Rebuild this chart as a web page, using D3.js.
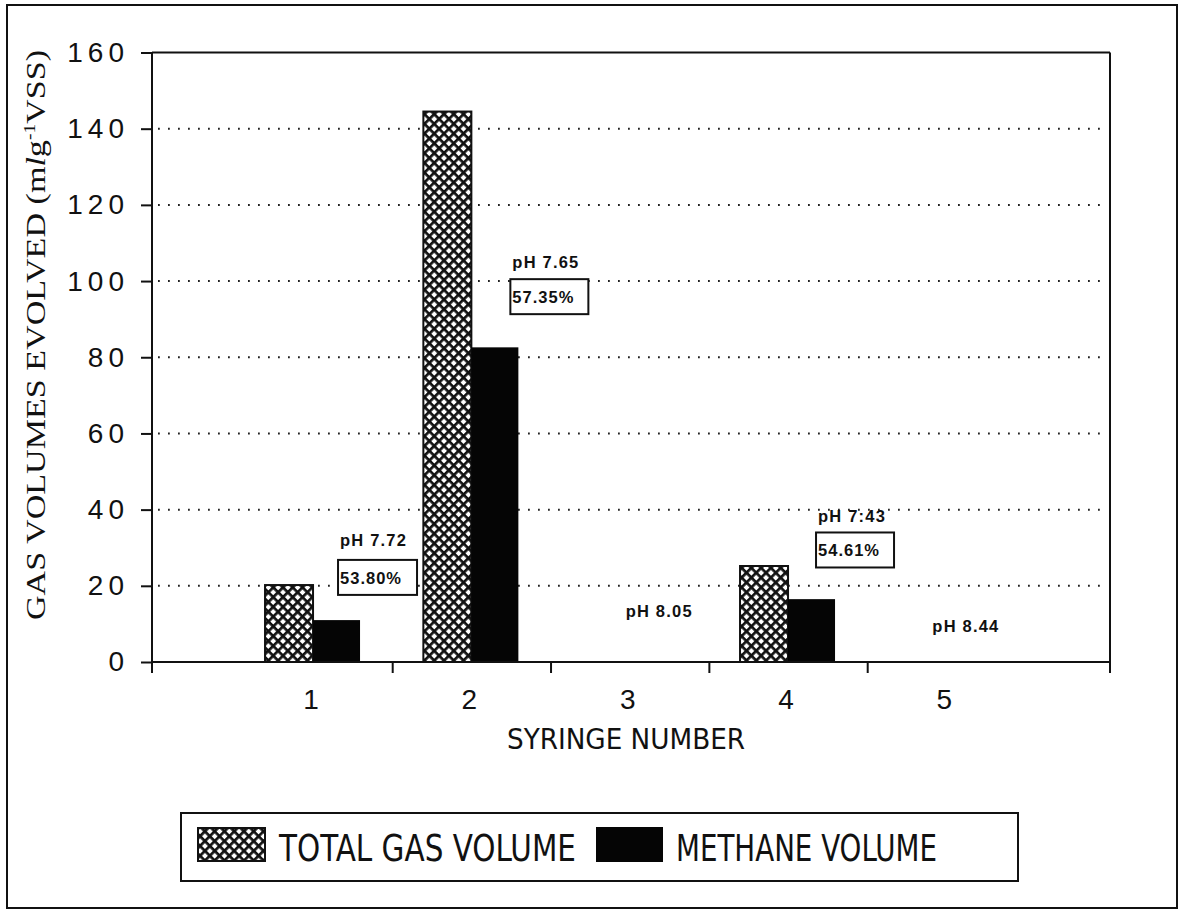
<!DOCTYPE html>
<html>
<head>
<meta charset="utf-8">
<script src="https://cdn.jsdelivr.net/npm/d3@7/dist/d3.min.js"></script>
<style>
  html, body { margin: 0; padding: 0; background: #fff; }
  svg { display: block; }
</style>
</head>
<body>
<script>
// ---- data ----
const categories = ["1", "2", "3", "4", "5"];
const totalGas = [20.2, 144.5, 0, 25.2, 0];
const methane = [11.0, 82.6, 0, 16.5, 0];
const phLabels = ["pH 7.72", "pH 7.65", "pH 8.05", "pH 7:43", "pH 8.44"];
const pctLabels = ["53.80%", "57.35%", null, "54.61%", null];
const yTicks = [0, 20, 40, 60, 80, 100, 120, 140, 160];
const gridTicks = [20, 40, 60, 80, 100, 120, 140];
const legendLabels = ["TOTAL GAS VOLUME", "METHANE VOLUME"];

// ---- layout ----
const W = 1181, H = 913;
const plot = { left: 152, right: 1110, top: 52.5, bottom: 662 };
const barW = 48;

const svg = d3.select("body").append("svg").attr("width", W).attr("height", H);

const defs = svg.append("defs");
const P = 6.9, LW = 2.7;
const pat = defs.append("pattern")
  .attr("id", "xhatch").attr("patternUnits", "userSpaceOnUse")
  .attr("width", P).attr("height", P)
  .attr("patternTransform", "rotate(45)");
pat.append("rect").attr("width", P).attr("height", P).attr("fill", "#fff");
pat.append("rect").attr("x", 0).attr("y", 0).attr("width", P).attr("height", LW).attr("fill", "#111");
pat.append("rect").attr("x", 0).attr("y", 0).attr("width", LW).attr("height", P).attr("fill", "#111");

// outer frame
svg.append("rect").attr("x", 7).attr("y", 5).attr("width", 1170).attr("height", 903)
  .attr("fill", "none").attr("stroke", "#111").attr("stroke-width", 2);

const y = d3.scaleLinear().domain([0, 160]).range([plot.bottom, plot.top]);
const x = d3.scaleLinear().domain([0, 6]).range([154.7, 1104.7]);

// gridlines (dotted)
svg.append("g").selectAll("line").data(gridTicks).join("line")
  .attr("x1", plot.left + 6).attr("x2", plot.right - 5)
  .attr("y1", d => y(d)).attr("y2", d => y(d))
  .attr("stroke", "#222").attr("stroke-width", 2)
  .attr("stroke-dasharray", "1.8,8.2");

// bars
const idx = categories.map((c, i) => i);
svg.append("g").selectAll("rect").data(idx.filter(i => totalGas[i] > 0)).join("rect")
  .attr("x", i => x(i + 1) - barW)
  .attr("y", i => y(totalGas[i]))
  .attr("width", barW)
  .attr("height", i => y(0) - y(totalGas[i]))
  .attr("fill", "url(#xhatch)").attr("stroke", "#111").attr("stroke-width", 2);

svg.append("g").selectAll("rect").data(idx.filter(i => methane[i] > 0)).join("rect")
  .attr("x", i => x(i + 1))
  .attr("y", i => y(methane[i]))
  .attr("width", barW - 1)
  .attr("height", i => y(0) - y(methane[i]))
  .attr("fill", "#050505");

// plot box: left axis, top, right
const axisColor = "#111";
svg.append("line").attr("x1", plot.left).attr("x2", plot.left).attr("y1", plot.top).attr("y2", plot.bottom + 11)
  .attr("stroke", axisColor).attr("stroke-width", 2);
svg.append("line").attr("x1", plot.left).attr("x2", plot.right).attr("y1", plot.top).attr("y2", plot.top)
  .attr("stroke", axisColor).attr("stroke-width", 2);
svg.append("line").attr("x1", plot.right).attr("x2", plot.right).attr("y1", plot.top).attr("y2", plot.bottom + 11)
  .attr("stroke", axisColor).attr("stroke-width", 2);
svg.append("line").attr("x1", plot.left).attr("x2", plot.right).attr("y1", plot.bottom).attr("y2", plot.bottom)
  .attr("stroke", axisColor).attr("stroke-width", 2);

// y axis ticks + labels
const yAxis = d3.axisLeft(y).tickValues(yTicks).tickSize(11).tickPadding(12).tickFormat(d3.format("d"));
const gy = svg.append("g").attr("transform", `translate(${plot.left},0)`).call(yAxis);
gy.select(".domain").remove();
gy.selectAll(".tick line").attr("stroke", axisColor).attr("stroke-width", 2);
gy.selectAll(".tick text")
  .attr("font-family", "'Liberation Sans', Arial, sans-serif")
  .attr("font-size", 28).attr("letter-spacing", 5).attr("fill", "#111");

// x axis: ticks between categories, labels at centers
const xAxisTicks = d3.axisBottom(x).tickValues([1.5, 2.5, 3.5, 4.5]).tickSize(11).tickFormat("");
const gx = svg.append("g").attr("transform", `translate(0,${plot.bottom})`).call(xAxisTicks);
gx.select(".domain").remove();
gx.selectAll(".tick line").attr("stroke", axisColor).attr("stroke-width", 2);

svg.append("g").selectAll("text").data(categories).join("text")
  .attr("x", (d, i) => x(i + 1) - 2)
  .attr("y", 709)
  .attr("text-anchor", "middle")
  .attr("font-family", "'Liberation Sans', Arial, sans-serif")
  .attr("font-size", 28).attr("fill", "#111")
  .text(d => d);

// x axis title
svg.append("text")
  .attr("x", 626).attr("y", 749)
  .attr("text-anchor", "middle")
  .attr("font-family", "'Liberation Sans Narrow', 'DejaVu Sans Condensed', 'Liberation Sans', sans-serif")
  .attr("font-size", 29).attr("fill", "#111")
  .attr("textLength", 238).attr("lengthAdjust", "spacingAndGlyphs")
  .text("SYRINGE NUMBER");

// y axis title (rotated, serif)
const yt = svg.append("text")
  .attr("transform", "translate(45,335) rotate(-90)")
  .attr("text-anchor", "middle")
  .attr("font-family", "'Liberation Serif', 'Times New Roman', serif")
  .attr("font-size", 28).attr("fill", "#111")
  .attr("textLength", 570).attr("lengthAdjust", "spacingAndGlyphs");
yt.append("tspan").text("GAS VOLUMES EVOLVED (m");
yt.append("tspan").attr("font-style", "italic").text("l");
yt.append("tspan").text("g");
yt.append("tspan").attr("font-size", 16).attr("dy", -10).text("-1");
yt.append("tspan").attr("dy", 10).text("VSS)");

// annotations (pH & methane %)
const annFont = "'Liberation Sans', Arial, sans-serif";
const annLayout = [
  { dx: 27, phY: 30.5, boxY: 26.8, boxW: 79 },
  { dx: 41, phY: 103.5, boxY: 100.5, boxW: 78 },
  { dx: -4, phY: 11.8, boxY: null, boxW: 0 },
  { dx: 30, phY: 36.8, boxY: 34.0, boxW: 78 },
  { dx: -14, phY: 7.9, boxY: null, boxW: 0 }
];
const ann = svg.append("g");
annLayout.forEach((a, i) => {
  const cx = x(i + 1) + a.dx;
  ann.append("text")
    .attr("x", cx).attr("y", y(a.phY))
    .attr("font-family", annFont).attr("font-weight", "bold")
    .attr("font-size", 16.5).attr("letter-spacing", 1.2).attr("fill", "#111")
    .text(phLabels[i]);
  if (pctLabels[i]) {
    const by = y(a.boxY);
    ann.append("rect")
      .attr("x", cx - 2).attr("y", by).attr("width", a.boxW).attr("height", 35)
      .attr("fill", "#fff").attr("stroke", "#111").attr("stroke-width", 2);
    ann.append("text")
      .attr("x", cx).attr("y", by + 24)
      .attr("font-family", annFont).attr("font-weight", "bold")
      .attr("font-size", 16.5).attr("letter-spacing", 1).attr("fill", "#111")
      .text(pctLabels[i]);
  }
});

// legend
const lg = svg.append("g");
lg.append("rect").attr("x", 181).attr("y", 813).attr("width", 837).attr("height", 68)
  .attr("fill", "#fff").attr("stroke", "#111").attr("stroke-width", 2);
lg.append("rect").attr("x", 198).attr("y", 828).attr("width", 67).attr("height", 33)
  .attr("fill", "url(#xhatch)").attr("stroke", "#111").attr("stroke-width", 2);
lg.append("rect").attr("x", 596).attr("y", 827).attr("width", 67).attr("height", 35)
  .attr("fill", "#050505");
const legFont = "'Liberation Sans Narrow', 'DejaVu Sans Condensed', 'Liberation Sans', sans-serif";
lg.append("text").attr("x", 279).attr("y", 861)
  .attr("font-family", legFont).attr("font-size", 38).attr("fill", "#111")
  .attr("textLength", 297).attr("lengthAdjust", "spacingAndGlyphs")
  .text(legendLabels[0]);
lg.append("text").attr("x", 676).attr("y", 861)
  .attr("font-family", legFont).attr("font-size", 38).attr("fill", "#111")
  .attr("textLength", 261).attr("lengthAdjust", "spacingAndGlyphs")
  .text(legendLabels[1]);
</script>
</body>
</html>
